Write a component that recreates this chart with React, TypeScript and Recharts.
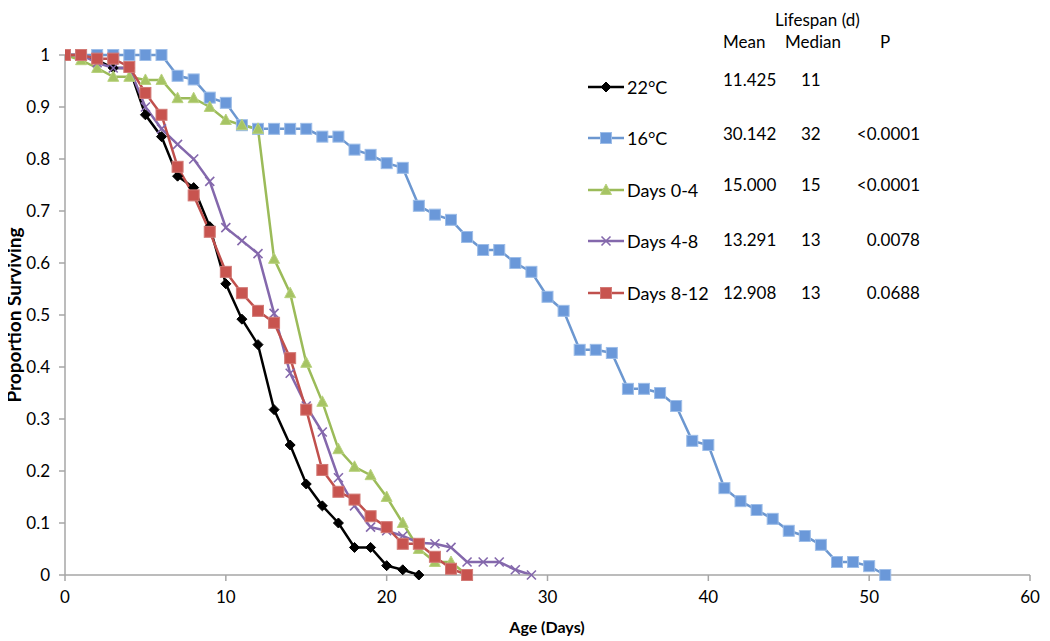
import React from 'react';
import { LineChart, Line, XAxis, YAxis } from 'recharts';

const DAYS = [0,1,2,3,4,5,6,7,8,9,10,11,12,13,14,15,16,17,18,19,20,21,22,23,24,25,26,27,28,29,30,31,32,33,34,35,36,37,38,39,40,41,42,43,44,45,46,47,48,49,50,51];

const SURV_22C = [1,1,0.99,0.975,0.975,0.885,0.843,0.767,0.745,0.67,0.56,0.492,0.443,0.318,0.25,0.175,0.133,0.1,0.053,0.053,0.018,0.01,0];
const SURV_16C = [1,1,1,1,1,1,1,0.96,0.953,0.918,0.908,0.865,0.858,0.858,0.858,0.858,0.843,0.843,0.818,0.808,0.792,0.783,0.71,0.693,0.683,0.65,0.625,0.625,0.6,0.583,0.535,0.508,0.433,0.433,0.427,0.358,0.358,0.35,0.325,0.258,0.25,0.167,0.142,0.125,0.108,0.085,0.075,0.058,0.025,0.025,0.017,0];
const SURV_D0_4 = [1,0.99,0.975,0.958,0.958,0.952,0.952,0.917,0.917,0.9,0.875,0.865,0.858,0.608,0.542,0.408,0.333,0.242,0.208,0.192,0.15,0.1,0.05,0.025,0.025,0];
const SURV_D4_8 = [1,1,0.985,0.975,0.975,0.9,0.858,0.828,0.8,0.757,0.668,0.643,0.618,0.503,0.388,0.325,0.275,0.187,0.133,0.092,0.085,0.075,0.062,0.06,0.053,0.025,0.025,0.025,0.01,0];
const SURV_D8_12 = [1,1,0.993,0.993,0.977,0.927,0.885,0.785,0.73,0.66,0.583,0.542,0.508,0.485,0.417,0.318,0.202,0.16,0.145,0.113,0.092,0.06,0.06,0.035,0.012,0];

const SERIES_NAMES = ['22°C', '16°C', 'Days 0-4', 'Days 4-8', 'Days 8-12'];
const MEAN_LIFESPAN = ['11.425', '30.142', '15.000', '13.291', '12.908'];
const MEDIAN_LIFESPAN = ['11', '32', '15', '13', '13'];
const P_VALUES = ['', '<0.0001', '<0.0001', '0.0078', '0.0688'];

const X_TICKS = [0, 10, 20, 30, 40, 50, 60];
const Y_TICKS = [0, 0.1, 0.2, 0.3, 0.4, 0.5, 0.6, 0.7, 0.8, 0.9, 1];

const STYLES = [
  { line: '#000000', fill: '#000000', stroke: '#000000', shape: 'diamond' },
  { line: '#6C97D0', fill: '#6A98D9', stroke: '#9DBDE8', shape: 'square' },
  { line: '#9BBB59', fill: '#A6C464', stroke: '#B9D27F', shape: 'triangle' },
  { line: '#8468AC', fill: '#8468AC', stroke: '#8468AC', shape: 'x' },
  { line: '#C0504D', fill: '#C8544F', stroke: '#D27A76', shape: 'square' },
];

const ALL_VALUES = [SURV_22C, SURV_16C, SURV_D0_4, SURV_D4_8, SURV_D8_12];

const FONT = 'Lato, "Open Sans", sans-serif';

function Marker({ shape, cx, cy, fill, stroke }: any) {
  if (shape === 'diamond') {
    return <polygon points={`${cx},${cy - 5} ${cx + 5},${cy} ${cx},${cy + 5} ${cx - 5},${cy}`} fill={fill} stroke={stroke} strokeWidth={1} />;
  }
  if (shape === 'square') {
    return <rect x={cx - 5.5} y={cy - 5.5} width={11} height={11} fill={fill} stroke={stroke} strokeWidth={1} />;
  }
  if (shape === 'triangle') {
    return <polygon points={`${cx},${cy - 6} ${cx + 5.5},${cy + 4.5} ${cx - 5.5},${cy + 4.5}`} fill={fill} stroke={stroke} strokeWidth={1} />;
  }
  return (
    <g stroke={stroke} strokeWidth={1.6}>
      <line x1={cx - 4.5} y1={cy - 4.5} x2={cx + 4.5} y2={cy + 4.5} />
      <line x1={cx - 4.5} y1={cy + 4.5} x2={cx + 4.5} y2={cy - 4.5} />
    </g>
  );
}

const makeDot = (st: any, si: number) => (props: any) => {
  const { cx, cy, index } = props;
  if (cx == null || cy == null) return <g key={`d-${si}-${index}`} />;
  return (
    <g key={`d-${si}-${index}`}>
      <Marker shape={st.shape} cx={cx} cy={cy} fill={st.fill} stroke={st.stroke} />
    </g>
  );
};

const LEGEND_Y = [87, 138, 190, 241, 293];
const VALUE_Y = [79, 133, 184, 239, 292];

export default function App() {
  const seriesData = ALL_VALUES.map((vals) => vals.map((v, i) => ({ day: DAYS[i], v })));
  const abs = (x: number, y: number, extra: any = {}) => ({
    position: 'absolute' as const,
    left: x - 8,
    top: y - 8,
    transform: 'translateY(-50%)',
    lineHeight: 1,
    whiteSpace: 'nowrap' as const,
    fontSize: 17,
    color: '#000',
    ...extra,
  });
  return (
    <div style={{ position: 'relative', width: 1034, height: 633, fontFamily: FONT, background: '#fff' }}>
      <LineChart width={1034} height={625} margin={{ top: 47, right: 12, bottom: 28, left: 7 }}>
        <XAxis
          dataKey="day"
          type="number"
          domain={[0, 60]}
          ticks={X_TICKS}
          allowDataOverflow
          height={30}
          axisLine={{ stroke: '#A6A6A6', strokeWidth: 1.5 }}
          tickLine={{ stroke: '#A6A6A6', strokeWidth: 1.5 }}
          tickSize={6}
          tickMargin={10}
          tick={{ fill: '#000', fontSize: 17, fontFamily: FONT }}
        />
        <YAxis
          type="number"
          domain={[0, 1]}
          ticks={Y_TICKS}
          width={50}
          axisLine={{ stroke: '#A6A6A6', strokeWidth: 1.5 }}
          tickLine={{ stroke: '#A6A6A6', strokeWidth: 1.5 }}
          tickSize={6}
          tickMargin={9}
          tickFormatter={(v: number) => String(Number(v.toFixed(1)))}
          tick={{ fill: '#000', fontSize: 17, fontFamily: FONT }}
        />
        {seriesData.map((d, si) => (
          <Line
            key={SERIES_NAMES[si]}
            name={SERIES_NAMES[si]}
            data={d}
            dataKey="v"
            type="linear"
            stroke={STYLES[si].line}
            strokeWidth={2.5}
            dot={makeDot(STYLES[si], si)}
            activeDot={false}
            isAnimationActive={false}
          />
        ))}
      </LineChart>

      {/* Axis titles */}
      <div style={{ position: 'absolute', left: 547 - 8, top: 627 - 8, transform: 'translate(-50%,-50%)', fontWeight: 700, fontSize: 16, lineHeight: 1, whiteSpace: 'nowrap' }}>
        Age (Days)
      </div>
      <div style={{ position: 'absolute', left: 13 - 8, top: 315 - 8, transform: 'translate(-50%,-50%) rotate(-90deg)', fontWeight: 700, fontSize: 19, lineHeight: 1, whiteSpace: 'nowrap' }}>
        Proportion Surviving
      </div>

      {/* Table header */}
      <div style={abs(775, 19)}>Lifespan (d)</div>
      <div style={abs(723, 41)}>Mean</div>
      <div style={abs(785, 41)}>Median</div>
      <div style={abs(880, 41)}>P</div>

      {/* Legend rows */}
      {SERIES_NAMES.map((name, i) => (
        <React.Fragment key={name}>
          <svg style={{ position: 'absolute', left: 588 - 8, top: LEGEND_Y[i] - 8 - 7 }} width={36} height={14}>
            <line x1={0} y1={7} x2={36} y2={7} stroke={STYLES[i].line} strokeWidth={2.5} />
            <Marker shape={STYLES[i].shape} cx={18} cy={7} fill={STYLES[i].fill} stroke={STYLES[i].stroke} />
          </svg>
          <div style={abs(627, LEGEND_Y[i], { fontSize: 18 })}>{name}</div>
          <div style={abs(723, VALUE_Y[i])}>{MEAN_LIFESPAN[i]}</div>
          <div style={abs(801, VALUE_Y[i])}>{MEDIAN_LIFESPAN[i]}</div>
          <div style={{ ...abs(0, VALUE_Y[i]), left: undefined, right: 1034 - (920 - 8) }}>{P_VALUES[i]}</div>
        </React.Fragment>
      ))}
    </div>
  );
}
